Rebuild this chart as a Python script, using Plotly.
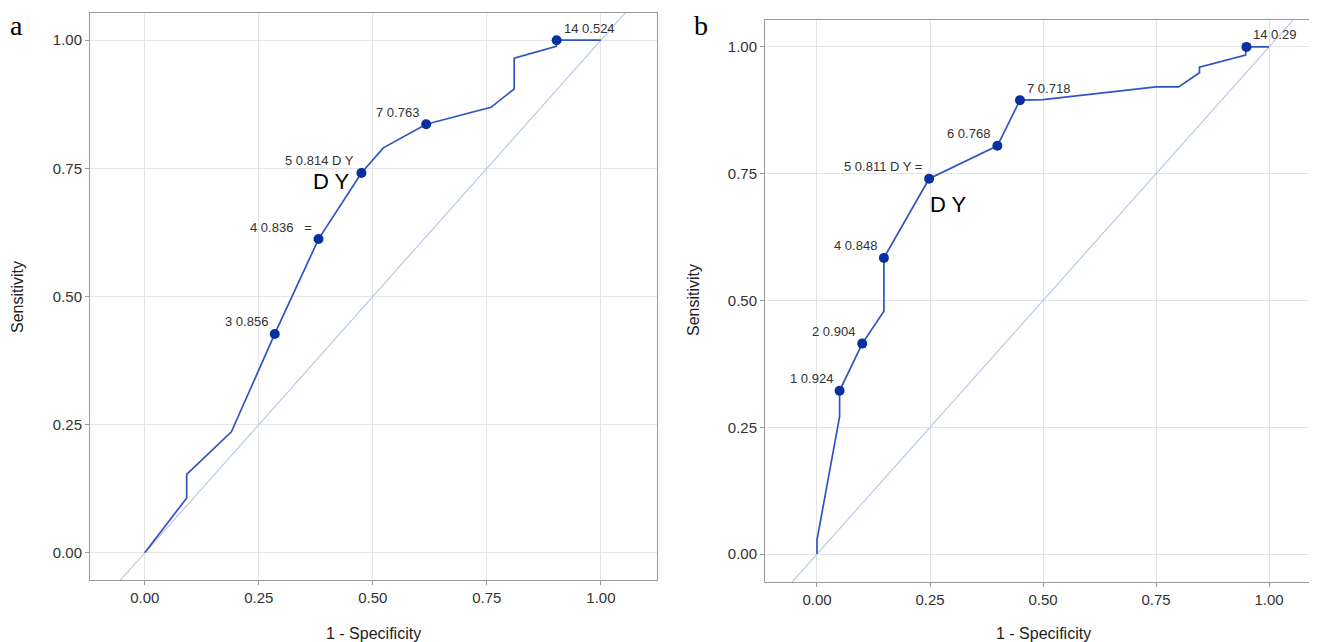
import plotly.graph_objects as go

# ---- Panel a data ----
a_x = [0.0, 0.092, 0.092, 0.19, 0.285, 0.381, 0.475, 0.523, 0.617, 0.759, 0.81, 0.81, 0.902, 0.903, 1.0]
a_y = [0.0, 0.107, 0.153, 0.236, 0.427, 0.612, 0.741, 0.790, 0.836, 0.869, 0.905, 0.965, 0.988, 1.0, 1.0]
a_mx = [0.285, 0.381, 0.475, 0.617, 0.903]
a_my = [0.427, 0.612, 0.741, 0.836, 1.0]
a_lab = ["3 0.856", "4 0.836   =", "5 0.814 D Y", "7 0.763", "14 0.524"]
a_side = ["left", "left", "left", "left", "right"]

# ---- Panel b data ----
b_x = [0.0, 0.0, 0.05, 0.05, 0.10, 0.148, 0.148, 0.248, 0.399, 0.449, 0.5, 0.75, 0.80, 0.846, 0.846, 0.948, 0.95, 1.0]
b_y = [0.0, 0.028, 0.271, 0.322, 0.415, 0.479, 0.584, 0.740, 0.805, 0.895, 0.896, 0.921, 0.921, 0.949, 0.960, 0.984, 1.0, 1.0]
b_mx = [0.05, 0.10, 0.148, 0.248, 0.399, 0.449, 0.95]
b_my = [0.322, 0.415, 0.584, 0.740, 0.805, 0.895, 1.0]
b_lab = ["1 0.924", "2 0.904", "4 0.848", "5 0.811 D Y =", "6 0.768", "7 0.718", "14 0.29"]
b_side = ["left", "left", "left", "left", "left", "right", "right"]

ticks = [0.0, 0.25, 0.5, 0.75, 1.0]
tick_text = ["0.00", "0.25", "0.50", "0.75", "1.00"]
diag = [-0.3, 1.3]

LINE = "#2f55c0"
MARK = "#0a2f9e"
DIAG = "#b9c8ea"
FONT = "Liberation Sans"

W, H = 1317, 642
OFF = 8  # page body margin offset


def px(x):
    return (x - OFF) / W


def py(y):
    return 1 - (y - OFF) / H


fig = go.Figure()


def add_panel(xs, ys, mx, my, labels, sides, xa, ya):
    fig.add_trace(go.Scatter(x=diag, y=diag, mode="lines", line=dict(color=DIAG, width=1.2),
                             xaxis=xa, yaxis=ya, hoverinfo="skip", showlegend=False))
    fig.add_trace(go.Scatter(x=xs, y=ys, mode="lines", line=dict(color=LINE, width=1.7),
                             xaxis=xa, yaxis=ya, showlegend=False))
    fig.add_trace(go.Scatter(x=mx, y=my, mode="markers", marker=dict(color=MARK, size=10),
                             xaxis=xa, yaxis=ya, showlegend=False))
    for x, y, t, s in zip(mx, my, labels, sides):
        fig.add_annotation(x=x, y=y, xref=xa, yref=ya, text=t, showarrow=False,
                           xanchor="right" if s == "left" else "left", yanchor="middle",
                           xshift=-5 if s == "left" else 5, yshift=12,
                           font=dict(family=FONT, size=13, color="#333333"))


add_panel(a_x, a_y, a_mx, a_my, a_lab, a_side, "x", "y")
add_panel(b_x, b_y, b_mx, b_my, b_lab, b_side, "x2", "y2")

# large DY labels
fig.add_annotation(x=a_mx[2], y=a_my[2], xref="x", yref="y", text="D Y", showarrow=False,
                   xanchor="right", yanchor="middle", xshift=-9, yshift=-9,
                   font=dict(family=FONT, size=22, color="#000000"))
fig.add_annotation(x=b_mx[3], y=b_my[3], xref="x2", yref="y2", text="D Y", showarrow=False,
                   xanchor="left", yanchor="middle", xshift=-1, yshift=-26,
                   font=dict(family=FONT, size=22, color="#000000"))

axis_common = dict(tickvals=ticks, ticktext=tick_text, showgrid=True, gridcolor="#e5e5e5",
                   gridwidth=1, zeroline=False, showline=True, linecolor="#9a9a9a", linewidth=1,
                   mirror=True, ticks="outside", ticklen=4, tickcolor="#9a9a9a",
                   tickfont=dict(family=FONT, size=15, color="#333333"))

fig.update_layout(
    width=W, height=H, paper_bgcolor="white", plot_bgcolor="white",
    margin=dict(l=0, r=0, t=0, b=0), showlegend=False,
    xaxis=dict(domain=[px(90), px(657)], range=[-0.12, 1.123], anchor="y", **axis_common),
    yaxis=dict(domain=[py(580), py(13)], range=[-0.053, 1.053], anchor="x", **axis_common),
    xaxis2=dict(domain=[px(765), px(1317)], range=[-0.115, 1.106], anchor="y2", **axis_common),
    yaxis2=dict(domain=[py(582), py(20)], range=[-0.055, 1.053], anchor="x2", **axis_common),
)

# axis titles
title_font = dict(family=FONT, size=16, color="#222222")
fig.add_annotation(x=px(17), y=py(297), xref="paper", yref="paper", text="Sensitivity",
                   textangle=-90, showarrow=False, font=title_font, xanchor="center", yanchor="middle")
fig.add_annotation(x=px(373), y=py(633), xref="paper", yref="paper", text="1 - Specificity",
                   showarrow=False, font=title_font, xanchor="center", yanchor="middle")
fig.add_annotation(x=px(693), y=py(300), xref="paper", yref="paper", text="Sensitivity",
                   textangle=-90, showarrow=False, font=title_font, xanchor="center", yanchor="middle")
fig.add_annotation(x=px(1043), y=py(633), xref="paper", yref="paper", text="1 - Specificity",
                   showarrow=False, font=title_font, xanchor="center", yanchor="middle")

# panel letters
letter_font = dict(family="Liberation Serif", size=28, color="#000000")
fig.add_annotation(x=px(16), y=1.0, xref="paper", yref="paper", text="a", showarrow=False,
                   font=letter_font, xanchor="center", yanchor="top")
fig.add_annotation(x=px(701), y=1.0, xref="paper", yref="paper", text="b", showarrow=False,
                   font=letter_font, xanchor="center", yanchor="top")

fig.write_html("out.html")
